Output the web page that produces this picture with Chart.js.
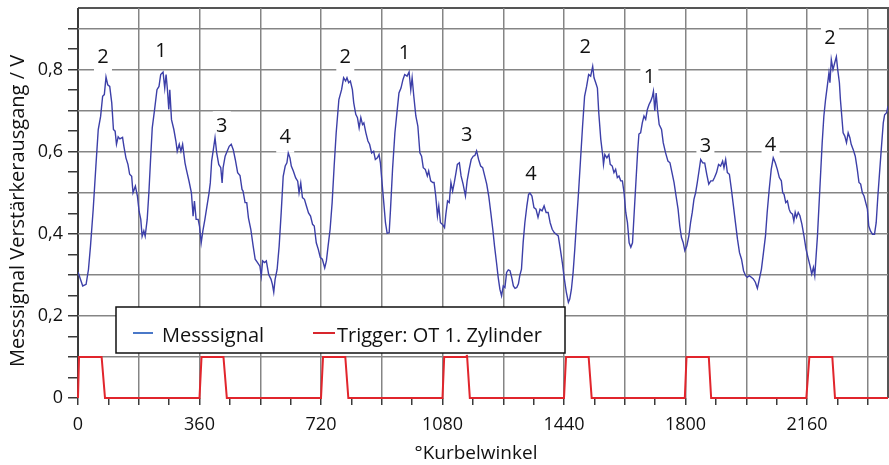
<!DOCTYPE html>
<html>
<head>
<meta charset="utf-8">
<script src="https://cdn.jsdelivr.net/npm/chart.js@4.4.1/dist/chart.umd.min.js"></script>
<style>
    html, body { margin: 0; padding: 0; background: #fff; }
    #chart { display: block; }
</style>
</head>
<body>
<canvas id="chart" width="889" height="465"></canvas>
<script>
// --- data ---
const sigAngle = [
    0, 14, 24, 31, 37, 45, 53, 60, 67, 73, 78, 83, 88, 94, 100, 105, 110, 114, 119, 124,
    132, 136, 142, 148, 153, 159, 163, 170, 176, 181, 186, 190, 195, 199, 205, 210, 215, 220, 227, 234,
    240, 245, 252, 257, 261, 265, 269, 272, 277, 284, 290, 294, 300, 305, 310, 317, 321, 329, 336, 341,
    345, 350, 356, 360, 365, 370, 376, 382, 388, 392, 396, 401, 406, 411, 417, 423, 427, 430, 436, 442,
    448, 454, 460, 466, 473, 480, 486, 489, 495, 500, 505, 512, 519, 525, 532, 539, 543, 547, 553, 558,
    565, 572, 576, 580, 584, 590, 596, 602, 608, 614, 619, 623, 628, 632, 638, 645, 651, 655, 660, 665,
    671, 677, 683, 689, 695, 700, 706, 712, 718, 724, 731, 736, 741, 747, 753, 759, 765, 773, 781, 787,
    793, 797, 802, 807, 813, 817, 823, 828, 833, 838, 843, 847, 853, 859, 864, 870, 876, 881, 887, 892,
    896, 900, 906, 911, 916, 922, 926, 932, 939, 945, 951, 957, 963, 968, 975, 981, 986, 990, 995, 1001,
    1007, 1013, 1018, 1023, 1029, 1035, 1039, 1045, 1051, 1055, 1060, 1065, 1069, 1074, 1080, 1086, 1090, 1095, 1100, 1105,
    1110, 1115, 1120, 1124, 1130, 1135, 1141, 1148, 1153, 1159, 1165, 1171, 1176, 1181, 1187, 1193, 1199, 1205, 1211, 1217,
    1223, 1229, 1234, 1240, 1245, 1250, 1255, 1260, 1265, 1270, 1275, 1280, 1285, 1290, 1295, 1300, 1305, 1309, 1314, 1319,
    1324, 1330, 1335, 1339, 1345, 1351, 1357, 1363, 1369, 1375, 1381, 1387, 1393, 1399, 1405, 1411, 1417, 1423, 1429, 1435,
    1441, 1447, 1453, 1457, 1462, 1467, 1472, 1477, 1483, 1489, 1495, 1501, 1507, 1513, 1519, 1525, 1529, 1534, 1539, 1543,
    1549, 1555, 1557, 1561, 1567, 1573, 1577, 1583, 1588, 1593, 1598, 1603, 1608, 1613, 1618, 1623, 1628, 1633, 1638, 1643,
    1648, 1653, 1658, 1662, 1667, 1672, 1677, 1682, 1687, 1692, 1697, 1702, 1705, 1709, 1713, 1717, 1722, 1729, 1734, 1741,
    1748, 1754, 1760, 1766, 1772, 1778, 1783, 1788, 1793, 1798, 1804, 1810, 1815, 1820, 1825, 1830, 1835, 1840, 1845, 1851,
    1857, 1863, 1869, 1875, 1881, 1886, 1892, 1898, 1904, 1910, 1914, 1919, 1924, 1930, 1936, 1942, 1948, 1954, 1960, 1966,
    1972, 1978, 1983, 1989, 1995, 2001, 2007, 2013, 2019, 2025, 2031, 2037, 2042, 2048, 2054, 2060, 2066, 2072, 2078, 2084,
    2088, 2092, 2097, 2102, 2107, 2111, 2117, 2121, 2125, 2129, 2134, 2139, 2145, 2151, 2157, 2163, 2169, 2174, 2179, 2183,
    2187, 2191, 2195, 2200, 2205, 2210, 2215, 2220, 2225, 2228, 2232, 2237, 2242, 2247, 2251, 2256, 2259, 2263, 2267, 2272,
    2277, 2282, 2287, 2291, 2297, 2303, 2309, 2314, 2319, 2324, 2329, 2334, 2339, 2343, 2348, 2354, 2360, 2365, 2370, 2375,
    2380, 2386, 2390, 2396, 2400
];
const sigValue = [
    0.307, 0.273, 0.277, 0.313, 0.370, 0.459, 0.565, 0.654, 0.686, 0.735, 0.739, 0.782, 0.763, 0.759, 0.719, 0.654, 0.650, 0.618, 0.636, 0.631,
    0.635, 0.613, 0.585, 0.569, 0.545, 0.540, 0.500, 0.516, 0.492, 0.455, 0.435, 0.394, 0.407, 0.394, 0.435, 0.500, 0.581, 0.658, 0.703, 0.751,
    0.759, 0.788, 0.794, 0.755, 0.788, 0.751, 0.703, 0.751, 0.678, 0.654, 0.626, 0.601, 0.618, 0.601, 0.618, 0.573, 0.557, 0.528, 0.500, 0.443,
    0.480, 0.435, 0.435, 0.419, 0.378, 0.407, 0.435, 0.467, 0.498, 0.524, 0.577, 0.605, 0.634, 0.597, 0.569, 0.561, 0.524, 0.561, 0.589, 0.601,
    0.613, 0.618, 0.605, 0.581, 0.549, 0.542, 0.508, 0.504, 0.476, 0.476, 0.439, 0.411, 0.370, 0.338, 0.330, 0.321, 0.297, 0.334, 0.330, 0.334,
    0.301, 0.289, 0.277, 0.258, 0.289, 0.313, 0.370, 0.451, 0.540, 0.565, 0.573, 0.597, 0.585, 0.565, 0.553, 0.536, 0.528, 0.500, 0.524, 0.488,
    0.484, 0.467, 0.451, 0.443, 0.423, 0.419, 0.378, 0.362, 0.342, 0.338, 0.317, 0.334, 0.370, 0.411, 0.476, 0.565, 0.646, 0.727, 0.751, 0.780,
    0.772, 0.780, 0.768, 0.772, 0.751, 0.719, 0.691, 0.683, 0.658, 0.683, 0.666, 0.670, 0.646, 0.626, 0.618, 0.597, 0.601, 0.581, 0.585, 0.593,
    0.573, 0.533, 0.476, 0.427, 0.401, 0.403, 0.460, 0.557, 0.646, 0.695, 0.743, 0.755, 0.776, 0.788, 0.784, 0.794, 0.751, 0.780, 0.735, 0.687,
    0.662, 0.597, 0.589, 0.561, 0.557, 0.541, 0.553, 0.529, 0.525, 0.525, 0.492, 0.444, 0.468, 0.427, 0.423, 0.415, 0.448, 0.480, 0.476, 0.525,
    0.504, 0.525, 0.549, 0.569, 0.573, 0.541, 0.521, 0.492, 0.529, 0.557, 0.581, 0.589, 0.591, 0.602, 0.581, 0.565, 0.561, 0.541, 0.521, 0.492,
    0.452, 0.411, 0.371, 0.330, 0.294, 0.265, 0.249, 0.273, 0.269, 0.306, 0.312, 0.310, 0.294, 0.273, 0.267, 0.269, 0.278, 0.298, 0.314, 0.379,
    0.427, 0.468, 0.496, 0.499, 0.492, 0.464, 0.460, 0.440, 0.460, 0.456, 0.468, 0.452, 0.452, 0.427, 0.411, 0.403, 0.399, 0.395, 0.363, 0.330,
    0.290, 0.257, 0.233, 0.241, 0.265, 0.306, 0.363, 0.427, 0.500, 0.581, 0.662, 0.735, 0.759, 0.788, 0.784, 0.808, 0.780, 0.768, 0.755, 0.695,
    0.630, 0.589, 0.569, 0.593, 0.585, 0.593, 0.569, 0.565, 0.549, 0.557, 0.537, 0.541, 0.529, 0.529, 0.500, 0.452, 0.427, 0.378, 0.367, 0.378,
    0.452, 0.525, 0.598, 0.643, 0.646, 0.670, 0.687, 0.679, 0.703, 0.715, 0.723, 0.735, 0.747, 0.699, 0.743, 0.703, 0.666, 0.654, 0.622, 0.597,
    0.577, 0.573, 0.549, 0.525, 0.492, 0.460, 0.419, 0.391, 0.379, 0.359, 0.371, 0.395, 0.427, 0.452, 0.484, 0.500, 0.525, 0.553, 0.581, 0.573,
    0.572, 0.545, 0.521, 0.529, 0.529, 0.537, 0.549, 0.569, 0.565, 0.577, 0.561, 0.581, 0.549, 0.545, 0.508, 0.468, 0.427, 0.387, 0.354, 0.338,
    0.310, 0.298, 0.294, 0.298, 0.294, 0.290, 0.282, 0.267, 0.290, 0.314, 0.354, 0.395, 0.452, 0.508, 0.557, 0.585, 0.573, 0.557, 0.537, 0.529,
    0.500, 0.496, 0.476, 0.480, 0.460, 0.452, 0.448, 0.431, 0.452, 0.440, 0.452, 0.444, 0.423, 0.395, 0.363, 0.342, 0.322, 0.302, 0.318, 0.298,
    0.346, 0.395, 0.460, 0.541, 0.622, 0.687, 0.727, 0.759, 0.792, 0.768, 0.824, 0.800, 0.816, 0.831, 0.800, 0.768, 0.727, 0.687, 0.646, 0.638,
    0.622, 0.646, 0.634, 0.618, 0.605, 0.589, 0.557, 0.525, 0.521, 0.500, 0.492, 0.476, 0.460, 0.419, 0.407, 0.399, 0.399, 0.427, 0.492, 0.549,
    0.605, 0.670, 0.690, 0.695, 0.711
];

// trigger pulse (OT cylinder 1)
const trigAngle = [0, 3, 70, 80, 360, 366, 431, 441, 720, 726, 792, 801, 1080, 1085, 1150, 1152, 1153, 1161,
    1440, 1446, 1513, 1522, 1798, 1803, 1869, 1876, 2158, 2167, 2235, 2243, 2400];
const trigLevel = [0, 0.1, 0.1, 0, 0, 0.1, 0.1, 0, 0, 0.1, 0.1, 0, 0, 0.1, 0.1, 0.105, 0.1, 0,
    0, 0.1, 0.1, 0, 0, 0.1, 0.1, 0, 0, 0.1, 0.1, 0, 0];

// cylinder numbers written above the peaks
const peakText  = ['2', '1', '3', '4', '2', '1', '3', '4', '2', '1', '3', '4', '2'];
const peakAngle = [74, 246, 426, 614, 792, 967, 1152, 1342, 1503, 1693, 1859, 2052, 2228];
const peakLevel = [0.830, 0.844, 0.662, 0.634, 0.829, 0.839, 0.641, 0.544, 0.854, 0.782, 0.613, 0.615, 0.875];

// axes
const xTicks = [0, 90, 180, 270, 360, 450, 540, 630, 720, 810, 900, 990, 1080, 1170, 1260, 1350, 1440,
    1530, 1620, 1710, 1800, 1890, 1980, 2070, 2160, 2250, 2340];
const xGrid = [180, 360, 540, 720, 900, 1080, 1260, 1440, 1620, 1800, 1980, 2160, 2340];
const xLabelValues = [0, 360, 720, 1080, 1440, 1800, 2160];
const yTicks = [0, 0.05, 0.1, 0.15, 0.2, 0.25, 0.3, 0.35, 0.4, 0.45, 0.5, 0.55, 0.6, 0.65, 0.7, 0.75, 0.8, 0.85, 0.9];
const yGrid = [0.1, 0.2, 0.3, 0.4, 0.5, 0.6, 0.7, 0.8, 0.9];
const yLabelValues = [0, 0.2, 0.4, 0.6, 0.8];
const yLabels = ['0', '0,2', '0,4', '0,6', '0,8'];

const X_TITLE = '°Kurbelwinkel';
const Y_TITLE = 'Messsignal Verstärkerausgang / V';

const FONT = "'Open Sans', 'DejaVu Sans', sans-serif";
const GRID_COLOR = '#858585';
const AXIS_COLOR = '#3a3a3a';
const SIG_COLOR = '#3c3fa8';
const TRIG_COLOR = '#e1252c';

function hasValue(list, v) {
    return list.some(x => Math.abs(x - v) < 1e-6);
}

// frame + left axis line, drawn before the scales
const framePlugin = {
    id: 'frame',
    beforeDraw(chart) {
        const { ctx, chartArea: ca } = chart;
        ctx.save();
        ctx.lineWidth = 2;
        ctx.strokeStyle = '#555';
        ctx.beginPath();
        ctx.moveTo(ca.left, ca.top);
        ctx.lineTo(ca.right, ca.top);
        ctx.lineTo(ca.right, ca.bottom);
        ctx.stroke();
        ctx.strokeStyle = AXIS_COLOR;
        ctx.beginPath();
        ctx.moveTo(ca.left, ca.top);
        ctx.lineTo(ca.left, ca.bottom);
        ctx.stroke();
        ctx.restore();
    }
};

// peak numbers, under the curves
const backdropPlugin = {
    id: 'backdrop',
    beforeDatasetsDraw(chart) {
        const { ctx, scales } = chart;
        ctx.save();
        ctx.font = '20px ' + FONT;
        ctx.textAlign = 'center';
        ctx.textBaseline = 'middle';
        peakText.forEach((t, i) => {
            const px = scales.x.getPixelForValue(peakAngle[i]);
            const py = scales.y.getPixelForValue(peakLevel[i]);
            ctx.fillStyle = '#fff';
            ctx.fillRect(px - 9, py - 15, 18, 30);
            ctx.fillStyle = '#111';
            ctx.fillText(t, px, py);
        });
        ctx.restore();
    }
};

// legend box inside the plot, axis titles
const overlayPlugin = {
    id: 'overlay',
    afterDatasetsDraw(chart) {
        const { ctx, chartArea: ca } = chart;
        const left = ca.left + 38, top = ca.top + 299;
        ctx.save();
        ctx.fillStyle = '#fff';
        ctx.fillRect(left, top, 449, 46);
        ctx.strokeStyle = '#111';
        ctx.lineWidth = 1.5;
        ctx.strokeRect(left, top, 449, 46);

        const lineY = top + 26;
        ctx.lineWidth = 2;
        ctx.strokeStyle = '#4a78c8';
        ctx.beginPath(); ctx.moveTo(left + 17, lineY); ctx.lineTo(left + 37, lineY); ctx.stroke();
        ctx.strokeStyle = '#d8262d';
        ctx.beginPath(); ctx.moveTo(left + 197, lineY); ctx.lineTo(left + 219, lineY); ctx.stroke();

        ctx.font = '20px ' + FONT;
        ctx.fillStyle = '#111';
        ctx.textBaseline = 'alphabetic';
        ctx.fillText('Messsignal', left + 46, top + 35);
        ctx.fillText('Trigger: OT 1. Zylinder', left + 221, top + 35);

        // axis titles
        ctx.textAlign = 'center';
        ctx.textBaseline = 'middle';
        ctx.font = '19px ' + FONT;
        ctx.fillText(X_TITLE, ca.left + 398, ca.bottom + 56);
        ctx.font = '20px ' + FONT;
        ctx.translate(18, ca.top + 203);
        ctx.rotate(-Math.PI / 2);
        ctx.fillText(Y_TITLE, 0, 0);
        ctx.restore();
    }
};

new Chart(document.getElementById('chart'), {
    type: 'line',
    data: {
        datasets: [
            {
                label: 'Trigger: OT 1. Zylinder',
                data: trigAngle.map((a, i) => ({ x: a, y: trigLevel[i] })),
                borderColor: TRIG_COLOR,
                borderWidth: 2,
                pointRadius: 0,
                tension: 0,
                clip: false
            },
            {
                label: 'Messsignal',
                data: sigAngle.map((a, i) => ({ x: a, y: sigValue[i] })),
                borderColor: SIG_COLOR,
                borderWidth: 1.4,
                pointRadius: 0,
                tension: 0
            }
        ]
    },
    options: {
        responsive: false,
        animation: false,
        devicePixelRatio: 1,
        layout: { padding: { top: 8, right: 1, left: 0, bottom: 0 } },
        plugins: { legend: { display: false }, tooltip: { enabled: false } },
        scales: {
            x: {
                type: 'linear',
                min: 0,
                max: 2400,
                afterBuildTicks: axis => { axis.ticks = xTicks.map(v => ({ value: v })); },
                afterFit: axis => { axis.height = 67; axis.paddingLeft = 0; axis.paddingRight = 0; },
                ticks: {
                    autoSkip: false,
                    maxRotation: 0,
                    padding: 9,
                    color: '#111',
                    font: { family: FONT, size: 18 },
                    callback: v => hasValue(xLabelValues, v) ? String(v) : ''
                },
                grid: {
                    color: c => (c.tick && hasValue(xGrid, c.tick.value)) ? GRID_COLOR : 'rgba(0,0,0,0)',
                    lineWidth: 1.5,
                    tickColor: AXIS_COLOR,
                    tickLength: 7,
                    tickWidth: 1.5
                },
                border: { display: false }
            },
            y: {
                min: 0,
                max: 0.95,
                afterBuildTicks: axis => { axis.ticks = yTicks.map(v => ({ value: v })); },
                afterFit: axis => { axis.width = 78; axis.paddingTop = 0; axis.paddingBottom = 0; },
                ticks: {
                    autoSkip: false,
                    padding: 5,
                    color: '#111',
                    font: { family: FONT, size: 18 },
                    callback: v => {
                        const i = yLabelValues.findIndex(x => Math.abs(x - v) < 1e-6);
                        return i >= 0 ? yLabels[i] : '';
                    }
                },
                grid: {
                    color: c => (c.tick && hasValue(yGrid, c.tick.value)) ? GRID_COLOR : 'rgba(0,0,0,0)',
                    lineWidth: 1.5,
                    tickColor: AXIS_COLOR,
                    tickLength: 10,
                    tickWidth: 1.5
                },
                border: { display: false }
            }
        }
    },
    plugins: [framePlugin, backdropPlugin, overlayPlugin]
});
</script>
</body>
</html>
